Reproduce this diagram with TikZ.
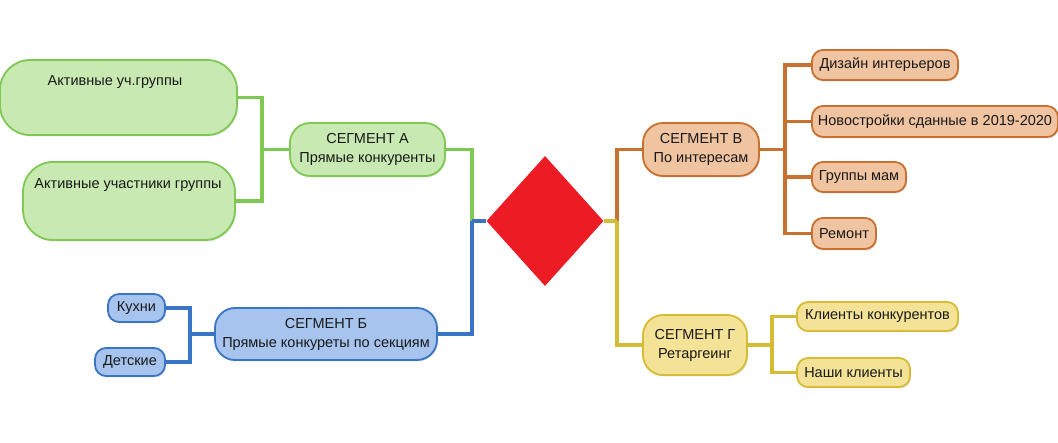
\documentclass[tikz,border=0pt]{standalone}
\usepackage{fontspec}
\setmainfont{Liberation Sans}
\usetikzlibrary{shapes.geometric,shadows}
\definecolor{gfill}{RGB}{200,234,178}
\definecolor{gline}{RGB}{128,200,84}
\definecolor{bfill}{RGB}{166,196,238}
\definecolor{bline}{RGB}{58,116,196}
\definecolor{ofill}{RGB}{240,196,160}
\definecolor{oline}{RGB}{200,112,48}
\definecolor{yfill}{RGB}{244,226,150}
\definecolor{yline}{RGB}{214,188,52}
\definecolor{dred}{RGB}{237,28,36}
\begin{document}
\begin{tikzpicture}[x=1pt,y=-1pt,
  txt/.style={font=\fontsize{14.5}{19}\selectfont, text=black!90, align=center},
  box/.style={draw, line width=1.8pt, inner sep=0pt, txt,
    drop shadow={opacity=0.22, shadow xshift=1pt, shadow yshift=-1.5pt}},
  gbox/.style={box, fill=gfill, draw=gline, rounded corners=30pt},
  seg/.style={box, rounded corners=20pt},
  kid/.style={box, rounded corners=11pt},
  conn/.style={line width=3.2pt, line join=miter}]
\useasboundingbox (0,0) rectangle (1058,443);

\coordinate (jA) at (262,149.5);
\coordinate (jL) at (472,221);
\coordinate (jB) at (190,334);
\coordinate (jR) at (617,221);
\coordinate (jV) at (785,149.5);
\coordinate (jG) at (772,345);

% green
\node[gbox, minimum width=237pt, minimum height=75pt] (g1) at (118.5,97.5) {};
\node[txt] (g1t) at (115,82) {Активные уч.группы};
\node[gbox, minimum width=212pt, minimum height=78pt] (g2) at (129,201) {};
\node[txt] (g2t) at (128,185) {Активные участники группы};
\node[seg, fill=gfill, draw=gline, minimum width=155pt, minimum height=53pt] (A) at (367.5,149.5) {СЕГМЕНТ А\\Прямые конкуренты};

% blue
\node[seg, fill=bfill, draw=bline, minimum width=222pt, minimum height=52pt] (B) at (326,334) {СЕГМЕНТ Б\\Прямые конкуреты по секциям};
\node[kid, fill=bfill, draw=bline, minimum width=57pt, minimum height=28pt] (K) at (136.5,308) {Кухни};
\node[kid, fill=bfill, draw=bline, minimum width=70pt, minimum height=28pt] (Det) at (130,362) {Детские};

% orange
\node[seg, fill=ofill, draw=oline, minimum width=116pt, minimum height=53pt] (V) at (701,149.5) {СЕГМЕНТ В\\По интересам};
\node[kid, fill=ofill, draw=oline, minimum width=146pt, minimum height=30pt] (V1) at (885,65) {Дизайн интерьеров};
\node[kid, fill=ofill, draw=oline, minimum width=246pt, minimum height=31pt] (V2) at (935,121.5) {Новостройки сданные в 2019-2020};
\node[kid, fill=ofill, draw=oline, minimum width=94pt, minimum height=30pt] (V3) at (859,177) {Группы мам};
\node[kid, fill=ofill, draw=oline, minimum width=64pt, minimum height=31pt] (V4) at (844,233.5) {Ремонт};

% yellow
\node[seg, fill=yfill, draw=yline, minimum width=104pt, minimum height=60pt] (G) at (695,345) {СЕГМЕНТ Г\\Ретаргеинг};
\node[kid, fill=yfill, draw=yline, minimum width=161pt, minimum height=29pt] (G1) at (877.5,316.5) {Клиенты конкурентов};
\node[kid, fill=yfill, draw=yline, minimum width=113pt, minimum height=29pt] (G2) at (853.5,372.5) {Наши клиенты};

% connectors
\draw[conn, gline] (g1.east) -| (jA);
\draw[conn, gline] (g2.east) -| (jA);
\draw[conn, gline] (jA) -- (A.west);
\draw[conn, gline] (A.east) -| (jL);
\draw[conn, bline] (jL) |- (B.east);
\draw[conn, bline] (K.east) -| (jB);
\draw[conn, bline] (Det.east) -| (jB);
\draw[conn, bline] (jB) -- (B.west);
\draw[conn, oline] (jR) |- (V.west);
\draw[conn, yline] (jR) |- (G.west);
\draw[conn, oline] (V.east) -- (jV);
\foreach \n in {V1,V2,V3,V4} \draw[conn, oline] (jV) |- (\n.west);
\draw[conn, yline] (G.east) -- (jG);
\foreach \n in {G1,G2} \draw[conn, yline] (jG) |- (\n.west);

% diamond
\node[diamond, fill=dred, inner sep=0pt, minimum width=117pt, minimum height=130pt] (D) at (545,221) {};
\draw[conn, bline] (D.west) -- (jL);
\draw[conn, yline] (D.east) -- (jR);
\end{tikzpicture}
\end{document}
